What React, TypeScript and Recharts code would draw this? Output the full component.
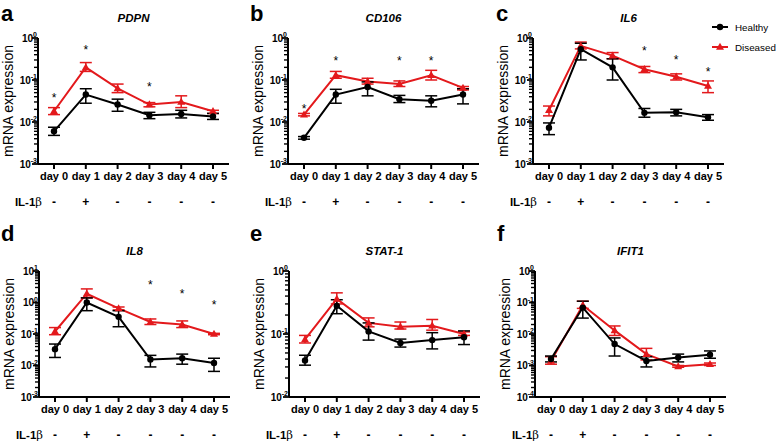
import React from "react";
import { LineChart, Line, XAxis, YAxis, ErrorBar } from "recharts";

const days = ["day 0", "day 1", "day 2", "day 3", "day 4", "day 5"];
const il1b = ["-", "+", "-", "-", "-", "-"];
const seriesNames = ["Healthy", "Diseased"];

// a - PDPN
const pdpnHealthy = [0.006, 0.045, 0.026, 0.0145, 0.0155, 0.0135];
const pdpnHealthyLow = [0.0048, 0.028, 0.018, 0.012, 0.0125, 0.0115];
const pdpnHealthyHigh = [0.0075, 0.062, 0.035, 0.017, 0.019, 0.016];
const pdpnDiseased = [0.018, 0.2, 0.063, 0.026, 0.03, 0.018];
const pdpnDiseasedLow = [0.015, 0.16, 0.05, 0.023, 0.022, 0.016];
const pdpnDiseasedHigh = [0.022, 0.26, 0.08, 0.029, 0.042, 0.019];
const pdpnStars = [0.043, 0.6, null, 0.078, null, null];

// b - CD106
const cd106Healthy = [0.0042, 0.045, 0.068, 0.035, 0.032, 0.045];
const cd106HealthyLow = [0.0039, 0.028, 0.042, 0.029, 0.023, 0.027];
const cd106HealthyHigh = [0.0045, 0.06, 0.09, 0.043, 0.042, 0.062];
const cd106Diseased = [0.015, 0.13, 0.092, 0.08, 0.13, 0.065];
const cd106DiseasedLow = [0.014, 0.11, 0.08, 0.07, 0.1, 0.058];
const cd106DiseasedHigh = [0.016, 0.16, 0.11, 0.095, 0.17, 0.07];
const cd106Stars = [0.024, 0.32, null, 0.32, 0.32, null];

// c - IL6
const il6Healthy = [0.0073, 0.54, 0.2, 0.0165, 0.017, 0.013];
const il6HealthyLow = [0.005, 0.3, 0.1, 0.013, 0.014, 0.011];
const il6HealthyHigh = [0.0095, 0.75, 0.32, 0.021, 0.02, 0.015];
const il6Diseased = [0.019, 0.65, 0.38, 0.18, 0.12, 0.072];
const il6DiseasedLow = [0.014, 0.55, 0.32, 0.15, 0.1, 0.05];
const il6DiseasedHigh = [0.024, 0.8, 0.45, 0.21, 0.14, 0.095];
const il6Stars = [null, null, null, 0.55, 0.35, 0.18];

// d - IL8
const il8Healthy = [0.033, 1.0, 0.35, 0.0155, 0.017, 0.012];
const il8HealthyLow = [0.018, 0.55, 0.17, 0.009, 0.011, 0.0065];
const il8HealthyHigh = [0.048, 1.4, 0.55, 0.021, 0.023, 0.017];
const il8Diseased = [0.12, 1.9, 0.65, 0.24, 0.2, 0.1];
const il8DiseasedLow = [0.095, 1.4, 0.58, 0.2, 0.16, 0.095];
const il8DiseasedHigh = [0.16, 2.7, 0.72, 0.3, 0.26, 0.105];
const il8Stars = [null, null, null, 4.2, 2.3, 1.0];

// e - STAT-1
const stat1Healthy = [0.038, 0.28, 0.11, 0.072, 0.08, 0.089];
const stat1HealthyLow = [0.032, 0.21, 0.08, 0.062, 0.058, 0.068];
const stat1HealthyHigh = [0.046, 0.35, 0.15, 0.083, 0.105, 0.112];
const stat1Diseased = [0.082, 0.36, 0.15, 0.13, 0.135, 0.1];
const stat1DiseasedLow = [0.072, 0.3, 0.13, 0.12, 0.115, 0.095];
const stat1DiseasedHigh = [0.095, 0.45, 0.18, 0.155, 0.17, 0.108];
const stat1Stars = [null, null, null, null, null, null];

// f - IFIT1
const ifit1Healthy = [0.0016, 0.069, 0.0048, 0.0014, 0.0018, 0.0022];
const ifit1HealthyLow = [0.0013, 0.032, 0.002, 0.0009, 0.0013, 0.0017];
const ifit1HealthyHigh = [0.002, 0.11, 0.0075, 0.0019, 0.0023, 0.0029];
const ifit1Diseased = [0.0014, 0.082, 0.013, 0.0023, 0.00093, 0.0011];
const ifit1DiseasedLow = [0.0011, 0.065, 0.009, 0.0015, 0.00088, 0.001];
const ifit1DiseasedHigh = [0.0019, 0.11, 0.018, 0.0035, 0.001, 0.0012];
const ifit1Stars = [null, null, null, null, null, null];

const RED = "#e3191c";
const FONT = "'Liberation Sans', Arial, Helvetica, sans-serif";
const PLOT_W = 191;
const PLOT_H = 126;

type PanelDef = {
  letter: string;
  title: string;
  healthy: number[];
  healthyLow: number[];
  healthyHigh: number[];
  diseased: number[];
  diseasedLow: number[];
  diseasedHigh: number[];
  stars: (number | null)[];
  lo: number;
  hi: number;
  axisX: number;
  axisTop: number;
  letterX: number;
};

const ROW1 = 38;
const ROW2 = 271;

const panels: PanelDef[] = [
  { letter: "a", title: "PDPN", healthy: pdpnHealthy, healthyLow: pdpnHealthyLow, healthyHigh: pdpnHealthyHigh, diseased: pdpnDiseased, diseasedLow: pdpnDiseasedLow, diseasedHigh: pdpnDiseasedHigh, stars: pdpnStars, lo: -3, hi: 0, axisX: 38, axisTop: ROW1, letterX: 1 },
  { letter: "b", title: "CD106", healthy: cd106Healthy, healthyLow: cd106HealthyLow, healthyHigh: cd106HealthyHigh, diseased: cd106Diseased, diseasedLow: cd106DiseasedLow, diseasedHigh: cd106DiseasedHigh, stars: cd106Stars, lo: -3, hi: 0, axisX: 288, axisTop: ROW1, letterX: 250 },
  { letter: "c", title: "IL6", healthy: il6Healthy, healthyLow: il6HealthyLow, healthyHigh: il6HealthyHigh, diseased: il6Diseased, diseasedLow: il6DiseasedLow, diseasedHigh: il6DiseasedHigh, stars: il6Stars, lo: -3, hi: 0, axisX: 533, axisTop: ROW1, letterX: 496 },
  { letter: "d", title: "IL8", healthy: il8Healthy, healthyLow: il8HealthyLow, healthyHigh: il8HealthyHigh, diseased: il8Diseased, diseasedLow: il8DiseasedLow, diseasedHigh: il8DiseasedHigh, stars: il8Stars, lo: -3, hi: 1, axisX: 39, axisTop: ROW2, letterX: 1 },
  { letter: "e", title: "STAT-1", healthy: stat1Healthy, healthyLow: stat1HealthyLow, healthyHigh: stat1HealthyHigh, diseased: stat1Diseased, diseasedLow: stat1DiseasedLow, diseasedHigh: stat1DiseasedHigh, stars: stat1Stars, lo: -2, hi: 0, axisX: 289, axisTop: ROW2, letterX: 250 },
  { letter: "f", title: "IFIT1", healthy: ifit1Healthy, healthyLow: ifit1HealthyLow, healthyHigh: ifit1HealthyHigh, diseased: ifit1Diseased, diseasedLow: ifit1DiseasedLow, diseasedHigh: ifit1DiseasedHigh, stars: ifit1Stars, lo: -4, hi: 0, axisX: 535, axisTop: ROW2, letterX: 497 },
];

function buildRows(p: PanelDef) {
  return days.map((day, i) => ({
    day,
    healthy: p.healthy[i],
    healthyErr: [p.healthy[i] - p.healthyLow[i], p.healthyHigh[i] - p.healthy[i]],
    diseased: p.diseased[i],
    diseasedErr: [p.diseased[i] - p.diseasedLow[i], p.diseasedHigh[i] - p.diseased[i]],
    star: p.stars[i],
  }));
}

// decades plus the 2..9 minor steps of a log axis
function logTicks(lo: number, hi: number) {
  const t: number[] = [];
  for (let k = lo; k < hi; k++) {
    for (let m = 1; m <= 9; m++) t.push(m * Math.pow(10, k));
  }
  t.push(Math.pow(10, hi));
  return t;
}

function YTick(props: any) {
  const { x, y, payload } = props;
  const e = Math.log10(payload.value);
  const major = Math.abs(e - Math.round(e)) < 1e-6;
  return (
    <g>
      <line x1={x} x2={x - (major ? 6 : 4)} y1={y} y2={y} stroke="#000" strokeWidth={major ? 1.8 : 1.4} />
      {major && (
        <text x={x - 1} y={y + 3.5} textAnchor="end" fontSize={10} fontWeight="bold" fontFamily={FONT} fill="#000">
          10
          <tspan dy={-4.5} fontSize={7}>
            {Math.round(e)}
          </tspan>
        </text>
      )}
    </g>
  );
}

function XTick(props: any) {
  const { x, y, payload } = props;
  const i = days.indexOf(payload.value);
  return (
    <g>
      <line x1={x} x2={x} y1={y} y2={y + 5} stroke="#000" strokeWidth={2} />
      <text x={x} y={y + 16} textAnchor="middle" fontSize={11} fontWeight="bold" fontFamily={FONT} fill="#000">
        {payload.value}
      </text>
      <text x={x} y={y + 42} textAnchor="middle" fontSize={12} fontWeight="bold" fontFamily={FONT} fill="#000">
        {il1b[i]}
      </text>
    </g>
  );
}

function TriDot(props: any) {
  const { cx, cy, index } = props;
  if (cx == null || cy == null || !Number.isFinite(cy)) return <g key={`t${index}`} />;
  return <path key={`t${index}`} d={`M${cx},${cy - 4.2}L${cx + 4},${cy + 2.8}L${cx - 4},${cy + 2.8}Z`} fill={RED} />;
}

function StarDot(props: any) {
  const { cx, cy, index } = props;
  if (cx == null || cy == null || !Number.isFinite(cy)) return <g key={`s${index}`} />;
  return (
    <text key={`s${index}`} x={cx} y={cy + 6.5} textAnchor="middle" fontSize={12} fontFamily={FONT} fill="#000">
      *
    </text>
  );
}

function Panel({ p }: { p: PanelDef }) {
  const data = buildRows(p);
  return (
    <div style={{ position: "absolute", left: p.axisX - 40, top: p.axisTop - 10 }}>
      <LineChart
        width={40 + PLOT_W + 10}
        height={10 + PLOT_H + 50}
        data={data}
        margin={{ top: 10, right: 10, left: 0, bottom: 0 }}
        style={{ overflow: "visible" }}
      >
        <XAxis
          dataKey="day"
          padding={{ left: 16, right: 16 }}
          axisLine={{ stroke: "#000", strokeWidth: 2 }}
          tickLine={false}
          tickSize={0}
          tickMargin={0}
          tick={XTick}
          interval={0}
          height={50}
        />
        <YAxis
          type="number"
          scale="log"
          domain={[Math.pow(10, p.lo), Math.pow(10, p.hi)]}
          allowDataOverflow
          ticks={logTicks(p.lo, p.hi)}
          interval={0}
          tick={YTick}
          tickLine={false}
          tickSize={0}
          tickMargin={0}
          axisLine={{ stroke: "#000", strokeWidth: 2 }}
          width={40}
        />
        <Line dataKey="diseased" name={seriesNames[1]} stroke={RED} strokeWidth={2} dot={TriDot} activeDot={false} isAnimationActive={false}>
          <ErrorBar dataKey="diseasedErr" direction="y" width={6} stroke={RED} strokeWidth={1.5} />
        </Line>
        <Line dataKey="healthy" name={seriesNames[0]} stroke="#000" strokeWidth={2} dot={{ r: 3.2, fill: "#000", stroke: "#000", strokeWidth: 0 }} activeDot={false} isAnimationActive={false}>
          <ErrorBar dataKey="healthyErr" direction="y" width={6} stroke="#000" strokeWidth={1.5} />
        </Line>
        <Line dataKey="star" stroke="none" dot={StarDot} activeDot={false} isAnimationActive={false} legendType="none" />
      </LineChart>
    </div>
  );
}

function Annotations() {
  return (
    <svg width={778} height={443} style={{ position: "absolute", left: 0, top: 0, pointerEvents: "none" }}>
      {panels.map((p) => {
        const row2 = p.axisTop === ROW2;
        return (
          <g key={p.letter} fontFamily={FONT} fill="#000">
            <text x={p.letterX} y={row2 ? 241 : 21} fontSize={22} fontWeight="bold">
              {p.letter}
            </text>
            <text x={p.axisX + PLOT_W / 2} y={(row2 ? 251 : 18) + 4} textAnchor="middle" fontSize={11.5} fontWeight="bold" fontStyle="italic">
              {p.title}
            </text>
            <text
              transform={`translate(${p.axisX - 30 + 5},${p.axisTop + PLOT_H / 2}) rotate(-90)`}
              textAnchor="middle"
              fontSize={14}
            >
              mRNA expression
            </text>
            <text x={p.axisX + 4} y={p.axisTop + PLOT_H + 38 + 4} textAnchor="end" fontSize={11.5} fontWeight="bold">
              IL-1
              <tspan fontFamily="'DejaVu Serif', serif" fontWeight="normal">β</tspan>
            </text>
          </g>
        );
      })}
      <g fontFamily={FONT} fill="#000">
        <line x1={712} x2={728} y1={27} y2={27} stroke="#000" strokeWidth={2} />
        <circle cx={720} cy={27} r={3.2} fill="#000" />
        <text x={735} y={30.5} fontSize={9.8}>
          {seriesNames[0]}
        </text>
        <line x1={712} x2={728} y1={47} y2={47} stroke={RED} strokeWidth={2} />
        <path d="M720,42.8L724,49.8L716,49.8Z" fill={RED} />
        <text x={735} y={50.5} fontSize={9.8}>
          {seriesNames[1]}
        </text>
      </g>
    </svg>
  );
}

export default function App() {
  return (
    <div style={{ position: "absolute", left: 0, top: 0, width: 778, height: 443, background: "#fff", fontFamily: FONT }}>
      {panels.map((p) => (
        <Panel key={p.letter} p={p} />
      ))}
      <Annotations />
    </div>
  );
}
